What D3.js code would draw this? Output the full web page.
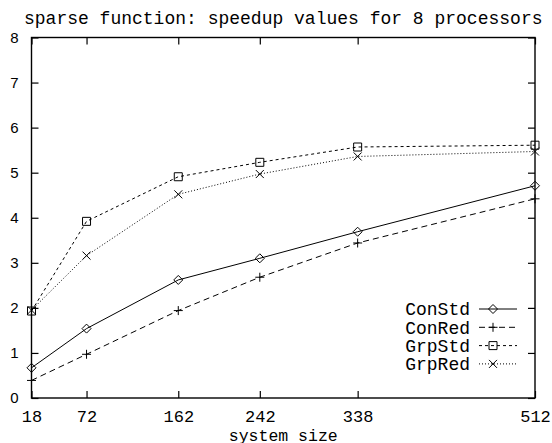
<!DOCTYPE html>
<html>
<head>
<meta charset="utf-8">
<script src="https://cdn.jsdelivr.net/npm/d3@7"></script>
<style>
  body { margin: 0; background: #fff; }
  svg { display: block; }
  .mono { font-family: "Liberation Mono", "DejaVu Sans Mono", monospace; font-size: 18px; fill: #000; }
</style>
</head>
<body>
<svg id="chart" width="552" height="443"></svg>
<script>
// system sizes (x values / tick labels)
const sizes = [18, 72, 162, 242, 338, 512];
const yTicks = [0, 1, 2, 3, 4, 5, 6, 7, 8];

// speedup values per series
const conStd = [0.67, 1.54, 2.62, 3.10, 3.69, 4.71];
const conRed = [0.39, 0.97, 1.94, 2.68, 3.44, 4.42];
const grpStd = [1.93, 3.92, 4.91, 5.23, 5.57, 5.61];
const grpRed = [1.95, 3.16, 4.52, 4.97, 5.36, 5.47];

const seriesNames = ['ConStd', 'ConRed', 'GrpStd', 'GrpRed'];

document.addEventListener('DOMContentLoaded', function () {
    drawChart();
});

function drawChart() {
    const svg = d3.select('#chart');
    const margin = { top: 37.5, bottom: 45, right: 17, left: 31.5 };
    const width = 552, height = 443;
    const innerWidth = width - margin.left - margin.right;
    const innerHeight = height - margin.top - margin.bottom;

    const xScale = d3.scaleLinear().domain([18, 512]).range([0, innerWidth]);
    const yScale = d3.scaleLinear().domain([0, 8]).range([innerHeight, 0]);

    const g = svg.append('g')
        .attr('transform', `translate(${margin.left},${margin.top})`);

    // axes: labelled bottom / left, mirrored ticks top / right
    const tick = 7;
    const xAxis = d3.axisBottom(xScale).tickValues(sizes).tickSize(-tick);
    const xTop = d3.axisTop(xScale).tickValues(sizes).tickSize(-tick).tickFormat('');
    const yAxis = d3.axisLeft(yScale).tickValues(yTicks).tickSize(-tick).tickPadding(13);
    const yRight = d3.axisRight(yScale).tickValues(yTicks).tickSize(-tick).tickFormat('');

    const gx = g.append('g').attr('transform', `translate(0,${innerHeight})`).call(xAxis);
    gx.selectAll('text').attr('class', 'mono').attr('dy', null).attr('y', 24)
        .style('font-size', '17px');
    g.append('g').call(xTop);
    const gy = g.append('g').call(yAxis);
    gy.selectAll('text')
        .style('font-family', '"Liberation Sans", Arial, sans-serif')
        .style('font-size', '15px')
        .attr('fill', '#000');
    g.append('g').attr('transform', `translate(${innerWidth},0)`).call(yRight);

    g.selectAll('.domain').remove();
    g.selectAll('.tick line').attr('stroke', '#000').attr('stroke-width', 1.2);

    // frame
    g.append('rect')
        .attr('x', 0).attr('y', 0)
        .attr('width', innerWidth).attr('height', innerHeight)
        .attr('fill', 'none').attr('stroke', '#000').attr('stroke-width', 1.4);

    const markers = {
        diamond: 'M0,-4.5L4.5,0L0,4.5L-4.5,0Z',
        plus: 'M-4.5,0H4.5M0,-4.5V4.5',
        square: 'M-4,-4H4V4H-4Z',
        cross: 'M-4,-4L4,4M4,-4L-4,4'
    };
    const series = [
        { name: seriesNames[0], values: conStd, dash: null, marker: markers.diamond },
        { name: seriesNames[1], values: conRed, dash: '6,4', marker: markers.plus },
        { name: seriesNames[2], values: grpStd, dash: '3,3', marker: markers.square },
        { name: seriesNames[3], values: grpRed, dash: '1,2', marker: markers.cross }
    ];

    const line = d3.line()
        .x((d, i) => xScale(sizes[i]))
        .y(d => yScale(d));

    series.forEach(s => {
        g.append('path')
            .datum(s.values)
            .attr('d', line)
            .attr('fill', 'none')
            .attr('stroke', '#000')
            .attr('stroke-width', 1)
            .attr('stroke-dasharray', s.dash);
        g.selectAll(null)
            .data(s.values)
            .enter()
            .append('path')
            .attr('transform', (d, i) => `translate(${xScale(sizes[i])},${yScale(d)})`)
            .attr('d', s.marker)
            .attr('fill', 'none')
            .attr('stroke', '#000')
            .attr('stroke-width', 1);
    });

    // legend
    const legend = svg.append('g').attr('transform', 'translate(470,309)');
    series.forEach((s, i) => {
        const row = legend.append('g').attr('transform', `translate(0,${i * 18.3})`);
        row.append('text')
            .attr('class', 'mono')
            .attr('text-anchor', 'end')
            .attr('dy', '0.35em')
            .text(s.name);
        row.append('line')
            .attr('x1', 9).attr('x2', 47)
            .attr('stroke', '#000').attr('stroke-width', 1)
            .attr('stroke-dasharray', s.dash);
        row.append('path')
            .attr('transform', 'translate(23,0)')
            .attr('d', s.marker)
            .attr('fill', 'none').attr('stroke', '#000').attr('stroke-width', 1);
    });

    // title and axis label
    svg.append('text')
        .attr('class', 'mono')
        .attr('x', margin.left + innerWidth / 2)
        .attr('y', 24)
        .attr('text-anchor', 'middle')
        .text('sparse function: speedup values for 8 processors');
    svg.append('text')
        .attr('class', 'mono')
        .attr('x', margin.left + innerWidth / 2)
        .attr('y', 440.5)
        .attr('text-anchor', 'middle')
        .style('font-size', '16.5px')
        .text('system size');
}
</script>
</body>
</html>
